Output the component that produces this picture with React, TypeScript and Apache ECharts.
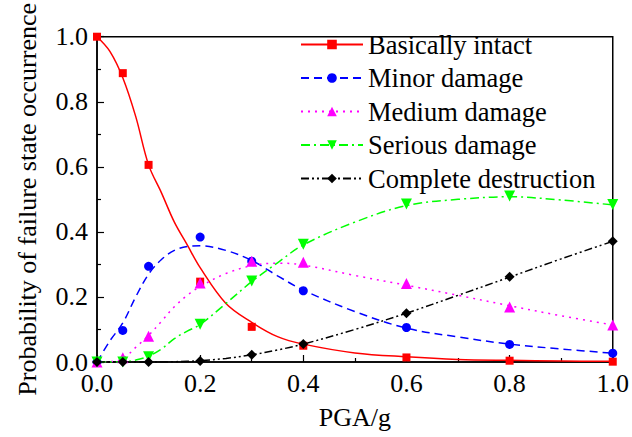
import React, { useEffect, useRef } from "react";
import * as echarts from "echarts";

const FONT = "'Liberation Serif', 'Times New Roman', serif";

const seriesNames = [
  "Basically intact",
  "Minor damage",
  "Medium damage",
  "Serious damage",
  "Complete destruction",
];

// Fitted curves
const curveX = [0, 0.025, 0.05, 0.075, 0.1, 0.125, 0.15, 0.175, 0.2, 0.25, 0.3, 0.35, 0.4, 0.5, 0.6, 0.7, 0.8, 0.9, 1.0];
const intactCurve = [1.0, 0.955, 0.874, 0.755, 0.606, 0.52, 0.43, 0.36, 0.29, 0.18, 0.122, 0.078, 0.055, 0.028, 0.016, 0.008, 0.005, 0.003, 0.002];
const minorCurve = [0, 0.065, 0.12, 0.2, 0.27, 0.315, 0.343, 0.355, 0.357, 0.343, 0.312, 0.265, 0.221, 0.155, 0.104, 0.077, 0.055, 0.04, 0.027];
const mediumCurve = [0, 0.001, 0.01, 0.045, 0.082, 0.125, 0.17, 0.205, 0.232, 0.272, 0.296, 0.304, 0.298, 0.266, 0.236, 0.205, 0.173, 0.142, 0.114];
const seriousCurve = [0, 0, 0.001, 0.006, 0.018, 0.04, 0.072, 0.095, 0.115, 0.18, 0.247, 0.305, 0.36, 0.43, 0.481, 0.5, 0.508, 0.498, 0.483];
const completeCurve = [0, 0, 0, 0, 0, 0, 0.001, 0.002, 0.004, 0.011, 0.022, 0.037, 0.055, 0.1, 0.15, 0.205, 0.261, 0.317, 0.371];

// Observed points (markers)
const pointX = [0, 0.05, 0.1, 0.2, 0.3, 0.4, 0.6, 0.8, 1.0];
const intactPoints = [1.0, 0.888, 0.606, 0.247, 0.108, 0.05, 0.014, 0.004, 0.001];
const minorPoints = [0, 0.097, 0.294, 0.384, 0.31, 0.219, 0.106, 0.054, 0.027];
const mediumPoints = [0, 0.013, 0.079, 0.243, 0.31, 0.307, 0.241, 0.169, 0.114];
const seriousPoints = [0, 0, 0.016, 0.116, 0.249, 0.362, 0.486, 0.51, 0.484];
const completePoints = [0, 0, 0, 0.003, 0.022, 0.055, 0.15, 0.262, 0.371];

const axisTicks = [0, 0.2, 0.4, 0.6, 0.8, 1.0];

const colors = ["#ff0000", "#0000ff", "#ff00ff", "#00ff00", "#000000"];
const symbols = ["rect", "circle", "triangle", "triangle", "diamond"];
const symbolRotates = [0, 0, 0, 180, 0];
const symbolSizes = [8, 9, 11, 11, 10];
const dashes: any[] = ["solid", [8, 5], [2, 5], [9, 4, 2, 4], [8, 3, 2, 3, 2, 3]];

export default function App() {
  const ref = useRef<HTMLDivElement>(null);
  useEffect(() => {
    if (!ref.current) return;
    const chart = echarts.init(ref.current, undefined, { renderer: "svg" });
    const curves = [intactCurve, minorCurve, mediumCurve, seriousCurve, completeCurve];
    const points = [intactPoints, minorPoints, mediumPoints, seriousPoints, completePoints];

    const lineSeries = seriesNames.map((name, i) => ({
      type: "line",
      name,
      data: curveX.map((x, k) => [x, curves[i][k]]),
      smooth: 0.35,
      showSymbol: false,
      symbol: symbols[i],
      symbolRotate: symbolRotates[i],
      symbolSize: symbolSizes[i],
      itemStyle: { color: colors[i] },
      lineStyle: { color: colors[i], width: 1.5, type: dashes[i] },
      z: 2,
    }));
    const scatterSeries = seriesNames.map((name, i) => ({
      type: "scatter",
      name,
      data: pointX.map((x, k) => [x, points[i][k]]),
      symbol: symbols[i],
      symbolRotate: symbolRotates[i],
      symbolSize: symbolSizes[i],
      itemStyle: { color: colors[i], opacity: 1 },
      z: 3,
    }));

    const axisCommon = {
      type: "value",
      min: 0,
      max: 1,
      interval: 0.2,
      nameLocation: "middle",
      nameTextStyle: { fontFamily: FONT, fontSize: 26, color: "#000" },
      axisLine: { show: true, lineStyle: { color: "#000", width: 1.5 } },
      axisTick: { show: true, inside: true, length: 7, lineStyle: { color: "#000", width: 1.2 } },
      minorTick: { show: true, splitNumber: 2, length: 4, lineStyle: { color: "#000", width: 1.2 } },
      splitLine: { show: false },
      axisLabel: {
        fontFamily: FONT,
        fontSize: 26,
        color: "#000",
        formatter: (v: number) => (axisTicks.some((t) => Math.abs(t - v) < 1e-6) ? v.toFixed(1) : ""),
      },
    };

    chart.setOption({
      animation: false,
      backgroundColor: "#fff",
      grid: {
        left: 97,
        top: 22,
        right: 18,
        bottom: 75,
        show: true,
        borderColor: "#000",
        borderWidth: 1.5,
        backgroundColor: "transparent",
      },
      xAxis: {
        ...axisCommon,
        name: "PGA/g",
        nameGap: 42,
        axisLabel: { ...axisCommon.axisLabel, margin: 8 },
      },
      yAxis: {
        ...axisCommon,
        name: "Probability of failure state occurrence",
        nameGap: 57,
        axisLabel: { ...axisCommon.axisLabel, margin: 9 },
      },
      legend: {
        data: seriesNames,
        orient: "vertical",
        left: 300,
        top: 31,
        padding: 0,
        itemWidth: 62,
        itemHeight: 12,
        itemGap: 6.5,
        textStyle: { fontFamily: FONT, fontSize: 26.5, color: "#000", lineHeight: 26.5 },
      },
      series: [...lineSeries, ...scatterSeries],
    });
    return () => chart.dispose();
  }, []);
  return (
    <div
      ref={ref}
      style={{ position: "fixed", left: 0, top: 0, width: 632, height: 437, background: "#fff" }}
    />
  );
}
